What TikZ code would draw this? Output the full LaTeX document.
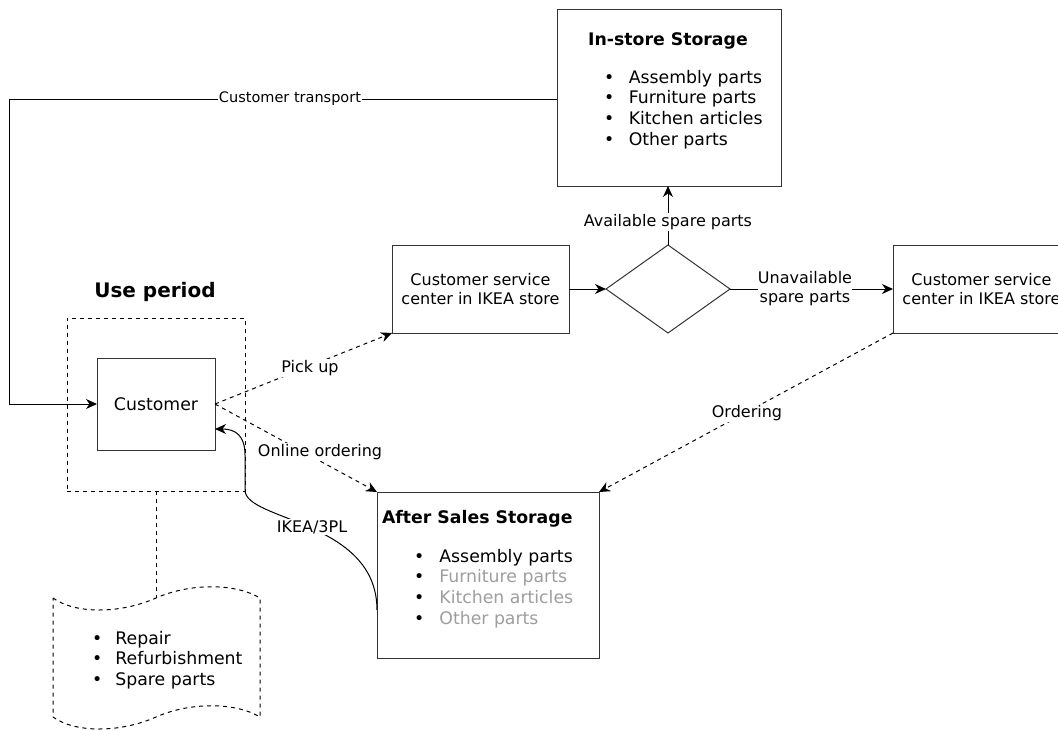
\documentclass[tikz,border=0pt]{standalone}
\usepackage{fontspec}
\setmainfont{DejaVu Sans}
\usetikzlibrary{arrows.meta,shapes.geometric,calc}
\begin{document}
\begin{tikzpicture}[x=1pt,y=-1pt,
  line width=1pt,
  every node/.style={inner sep=0pt, outer sep=0pt},
  box/.style={draw=black!80, fill=white, line width=1pt},
  f16/.style={font=\fontsize{16}{19}\selectfont},
  f17/.style={font=\fontsize{17.3}{20.7}\selectfont},
  ttl/.style={font=\bfseries\fontsize{17.3}{20.7}\selectfont},
  lbl/.style={f16, fill=white, inner sep=1pt},
  arr/.style={-{Stealth[length=11pt,width=10pt,inset=3.5pt]}},
  dsh/.style={dash pattern=on 4pt off 4pt},
]
\useasboundingbox (0,0) rectangle (1058,731);
\clip (0,0) rectangle (1058,731);

% In-store storage
\node[box, minimum width=224pt, minimum height=177pt] (instore) at (669,97.5) {};
\node[ttl, anchor=base] (instoreT) at (668,45) {In-store Storage};
\node[f17, anchor=base west] (instoreL) at (604,83) {\begin{tabular}[t]{@{}l@{\hspace{14.6pt}}l@{}}\textbullet & Assembly parts\\ \textbullet & Furniture parts\\ \textbullet & Kitchen articles\\ \textbullet & Other parts\end{tabular}};

% Use period
\node[draw=black, dsh, minimum width=178pt, minimum height=173pt] (useperiod) at (156,404.5) {};
\node[font=\bfseries\fontsize{20}{24}\selectfont, anchor=base] (uptitle) at (155,297) {Use period};
\node[box, f17, minimum width=118pt, minimum height=92pt] (customer) at (156,404) {Customer};

% document
\coordinate (doctop) at (156,598);
\draw[dsh] (useperiod.south) -- (doctop);
\draw[dsh] (53,598) .. controls (75,614) and (120,614) .. (doctop) .. controls (190,583) and (235,583) .. (260,598) -- (260,717) .. controls (235,702) and (190,702) .. (156,717) .. controls (120,733) and (75,733) .. (53,717) -- cycle;
\node[f17, anchor=base west] (docL) at (92,644) {\begin{tabular}[t]{@{}l@{\hspace{13.2pt}}l@{}}\textbullet & Repair\\ \textbullet & Refurbishment\\ \textbullet & Spare parts\end{tabular}};

% service centers and decision
\node[box, f16, align=center, minimum width=177pt, minimum height=88pt] (csc1) at (480.5,289) {Customer service\\center in IKEA store};
\node[draw=black!80, diamond, minimum width=124pt, minimum height=88pt] (dec) at (668,289) {};
\node[box, f16, align=center, minimum width=177pt, minimum height=88pt] (csc2) at (981.5,289) {Customer service\\center in IKEA store};

% After sales storage
\node[box, minimum width=222pt, minimum height=166pt] (aftersales) at (488,575) {};
\node[ttl, anchor=base west] (asT) at (382,523) {After Sales Storage};
\node[f17, anchor=base west] (asL) at (414,562) {\begin{tabular}[t]{@{}l@{\hspace{15.2pt}}l@{}}\textbullet & Assembly parts\\ \textbullet & \textcolor{black!38}{Furniture parts}\\ \textbullet & \textcolor{black!38}{Kitchen articles}\\ \textbullet & \textcolor{black!38}{Other parts}\end{tabular}};

% connectors
\coordinate (tcorner) at (9,99);
\draw[arr] (instore.west |- tcorner) -- (tcorner) |- (customer.west);
\node[f16, font=\fontsize{14.5}{17}\selectfont, fill=white, inner sep=1pt] (ltransport) at (290,99) {Customer transport};

\draw[arr] (csc1) -- (dec);
\draw[arr] (dec.north) -- node[lbl, pos=0.39] (lavail) {Available spare parts} (dec.north |- instore.south);
\draw[arr] (dec.east) -- node[lbl, inner sep=0pt, align=center, pos=0.46] (lunavail) {Unavailable\\spare parts} (csc2.west);

\draw[arr, dsh] (customer.east) -- (csc1.south west);
\node[lbl] (lpick) at (310,368) {Pick up};
\draw[arr, dsh] (customer.east) -- (aftersales.north west);
\node[lbl] (lonline) at (320,452) {Online ordering};
\draw[arr, dsh] (csc2.south west) -- (aftersales.north east);
\node[lbl] (lorder) at (747,413) {Ordering};

\draw[arr] ($(aftersales.west)+(0,35)$) .. controls (377,520) and (245,521) .. (245,490) -- (245,455) .. controls (245,436) and (236,429) .. ($(customer.east)+(0,25)$);
\node[lbl] (likea) at (312,527) {IKEA/3PL};
\end{tikzpicture}
\end{document}
